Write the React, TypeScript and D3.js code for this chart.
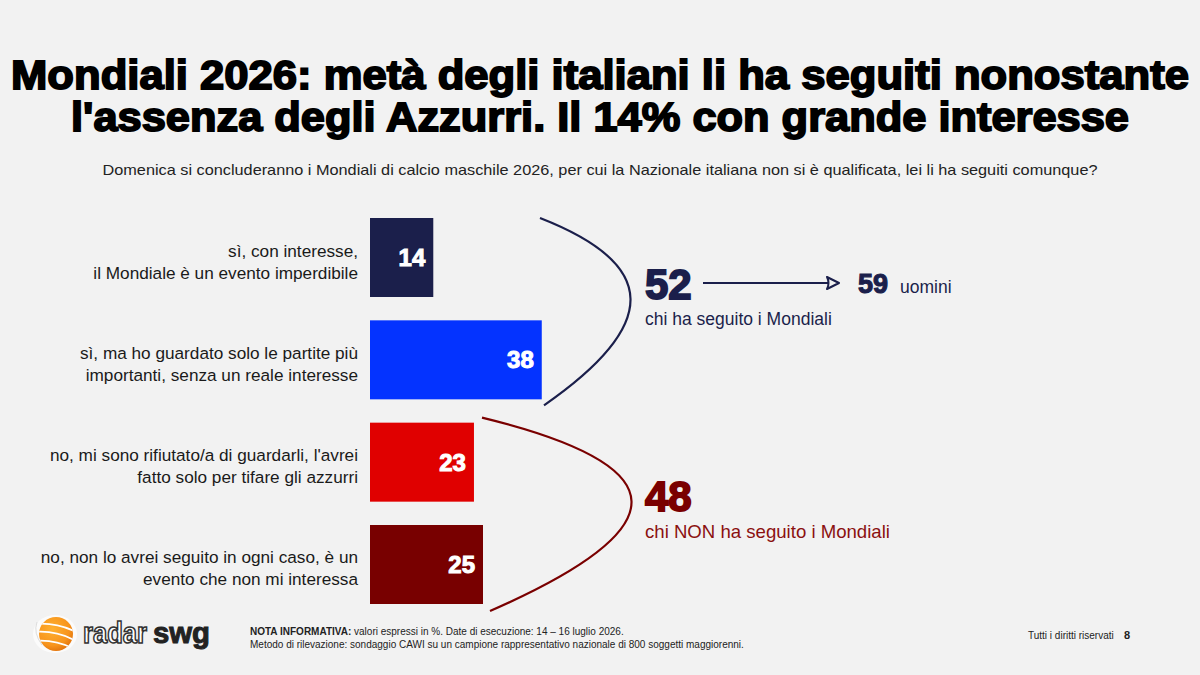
import React from "react";
import * as d3 from "d3";

// Survey answers, top to bottom
const answers = [
  ["sì, con interesse,", "il Mondiale è un evento imperdibile"],
  ["sì, ma ho guardato solo le partite più", "importanti, senza un reale interesse"],
  ["no, mi sono rifiutato/a di guardarli, l'avrei", "fatto solo per tifare gli azzurri"],
  ["no, non lo avrei seguito in ogni caso, è un", "evento che non mi interessa"],
];
const shares = [14, 38, 23, 25];
const barColors = ["#1b1f4b", "#0433ff", "#e00000", "#780000"];

// Group totals shown beside the braces
const followed = 52;
const followedMen = 59;
const notFollowed = 48;

const W = 1200;
const H = 675;
const FONT = "'Liberation Sans', Arial, sans-serif";

const App = () => {
  const x = d3.scaleLinear().domain([0, 100]).range([370, 822]);
  const y = d3
    .scaleBand<number>()
    .domain(d3.range(shares.length))
    .range([218, 604])
    .paddingInner(0.228)
    .paddingOuter(0);
  const bh = y.bandwidth();

  // brace curves grouping the two "yes" and the two "no" answers
  const brace = (top: number, bottom: number, x0: number, x1: number, reach: number) => {
    const p = d3.path();
    const h = bottom - top;
    p.moveTo(x0, top);
    p.bezierCurveTo(reach, top + h * 0.25, reach, top + h * 0.57, x1, bottom);
    return p.toString();
  };
  const yesTop = y(0)!;
  const yesBottom = y(1)! + bh + 6;
  const noTop = y(2)! - 5;
  const noBottom = y(3)! + bh + 7;

  const arrowY = 283;
  const arrowX0 = 703;
  const arrowX1 = 839;

  return (
    <svg width={W} height={H} style={{ position: "absolute", left: 0, top: 0 }} fontFamily={FONT}>
      <rect width={W} height={H} fill="#f2f2f2" />

      {/* title */}
      <g fontWeight={700} fontSize={41} fill="#000" stroke="#000" strokeWidth={1.8} textAnchor="middle">
        <text x={600} y={89} textLength={1178} lengthAdjust="spacingAndGlyphs">
          Mondiali 2026: metà degli italiani li ha seguiti nonostante
        </text>
        <text x={600} y={131} textLength={1058} lengthAdjust="spacingAndGlyphs">
          l'assenza degli Azzurri. Il 14% con grande interesse
        </text>
      </g>
      <text x={600} y={175} textAnchor="middle" fontSize={15} fill="#222" textLength={995} lengthAdjust="spacingAndGlyphs">
        Domenica si concluderanno i Mondiali di calcio maschile 2026, per cui la Nazionale italiana non si è qualificata, lei li ha seguiti comunque?
      </text>

      {/* bars */}
      {shares.map((v, i) => {
        const top = y(i)!;
        return (
          <g key={i}>
            <rect x={x(0)} y={top} width={x(v) - x(0)} height={bh} fill={barColors[i]} />
            <text
              x={x(v) - 8}
              y={top + bh / 2 + 8.5}
              textAnchor="end"
              fontSize={24}
              fontWeight={700}
              fill="#fff"
              stroke="#fff"
              strokeWidth={1}
            >
              {v}
            </text>
            <g fontSize={17.2} fill="#1a1a1a" textAnchor="end">
              <text x={358} y={top + bh / 2 - 1}>{answers[i][0]}</text>
              <text x={358} y={top + bh / 2 + 21}>{answers[i][1]}</text>
            </g>
          </g>
        );
      })}

      {/* braces */}
      <path d={brace(yesTop, yesBottom, 540, 544, 660)} fill="none" stroke="#1b1f4b" strokeWidth={2.2} />
      <path d={brace(noTop, noBottom, 482, 490, 680)} fill="none" stroke="#7a0000" strokeWidth={2.2} />

      {/* followed */}
      <text x={645} y={299} fontSize={42} fontWeight={700} fill="#1b1f4b" stroke="#1b1f4b" strokeWidth={1.8}>
        {followed}
      </text>
      <text x={645} y={325} fontSize={17.5} fill="#1b1f4b">
        chi ha seguito i Mondiali
      </text>
      <line x1={arrowX0} y1={arrowY} x2={arrowX1 - 10} y2={arrowY} stroke="#1b1f4b" strokeWidth={2} />
      <path
        d={`M${arrowX1 - 12},${arrowY - 6} L${arrowX1},${arrowY} L${arrowX1 - 12},${arrowY + 6} Q${arrowX1 - 9},${arrowY} ${arrowX1 - 12},${arrowY - 6} Z`}
        fill="#f2f2f2"
        stroke="#1b1f4b"
        strokeWidth={2}
        strokeLinejoin="round"
      />
      <text x={858} y={293} fontSize={27} fontWeight={700} fill="#1b1f4b" stroke="#1b1f4b" strokeWidth={1.1}>
        {followedMen}
      </text>
      <text x={900} y={293} fontSize={17.5} fill="#1b1f4b">
        uomini
      </text>

      {/* not followed */}
      <text x={645} y={511} fontSize={42} fontWeight={700} fill="#7a0000" stroke="#7a0000" strokeWidth={1.8}>
        {notFollowed}
      </text>
      <text x={645} y={538} fontSize={18.6} fill="#8b1010">
        chi NON ha seguito i Mondiali
      </text>

      {/* logo */}
      <defs>
        <radialGradient id="ball" cx="40%" cy="35%" r="70%">
          <stop offset="0%" stopColor="#ffb02e" />
          <stop offset="70%" stopColor="#f7941d" />
          <stop offset="100%" stopColor="#e0700a" />
        </radialGradient>
        <clipPath id="ballClip">
          <circle cx={56} cy={634} r={17} />
        </clipPath>
      </defs>
      <ellipse cx={55} cy={634} rx={22} ry={19} fill="#fff" opacity={0.7} />
      <circle cx={56} cy={634} r={17} fill="url(#ball)" />
      <g clipPath="url(#ballClip)" fill="none" stroke="#fff" strokeWidth={1.8}>
        <path d="M34,624 Q56,622 76,632" />
        <path d="M34,632 Q56,630 76,641" />
        <path d="M34,641 Q56,639 76,650" />
      </g>
      <path d="M37,622 Q33,633 42,645" fill="none" stroke="#ddd" strokeWidth={1} />
      <text x={83} y={643} fontSize={29} fontWeight={700} fill="#fff" stroke="#333" strokeWidth={1.6} textLength={64} lengthAdjust="spacingAndGlyphs">
        radar
      </text>
      <text x={153} y={643} fontSize={29} fontWeight={700} fill="#222" stroke="#222" strokeWidth={1} textLength={57} lengthAdjust="spacingAndGlyphs">
        swg
      </text>

      {/* footnote */}
      <text x={250} y={635} fontSize={10} fill="#222">
        <tspan fontWeight={700}>NOTA INFORMATIVA:</tspan> valori espressi in %. Date di esecuzione: 14 – 16 luglio 2026.
      </text>
      <text x={250} y={648} fontSize={10} fill="#222">
        Metodo di rilevazione: sondaggio CAWI su un campione rappresentativo nazionale di 800 soggetti maggiorenni.
      </text>
      <text x={1028} y={639} fontSize={10} fill="#222">
        Tutti i diritti riservati
      </text>
      <text x={1124} y={639} fontSize={11} fontWeight={700} fill="#222">
        8
      </text>
    </svg>
  );
};

export default App;
